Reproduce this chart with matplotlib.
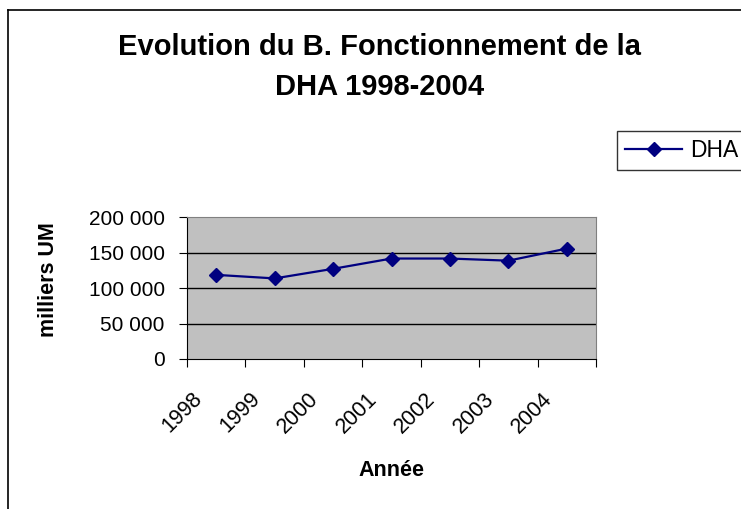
import matplotlib
matplotlib.use("Agg")
import matplotlib.pyplot as plt
from matplotlib.lines import Line2D
from matplotlib.ticker import FuncFormatter
from matplotlib.transforms import ScaledTranslation

years = ["1998", "1999", "2000", "2001", "2002", "2003", "2004"]
dha_values = [118500, 113500, 127000, 141500, 141500, 138500, 155500]
y_ticks = [0, 50000, 100000, 150000, 200000]

plt.rcParams["font.family"] = ["Liberation Sans", "DejaVu Sans"]

W, H = 741, 509
fig = plt.figure(figsize=(W / 100, H / 100), dpi=100)
fig.patch.set_facecolor("white")

# chart area frame (runs off the right and bottom edges)
fig.add_artist(Line2D([7.5 / W, 7.5 / W], [0, 1 - 9.5 / H], transform=fig.transFigure,
                      color="black", lw=1.2))
fig.add_artist(Line2D([7.5 / W, 1], [1 - 9.5 / H, 1 - 9.5 / H], transform=fig.transFigure,
                      color="black", lw=1.2))

left, right, top, bottom = 187, 596, 217, 359
ax = fig.add_axes([left / W, 1 - bottom / H, (right - left) / W, (bottom - top) / H])
ax.set_facecolor("#c0c0c0")

x = list(range(len(years)))
line, = ax.plot(x, dha_values, color="#000080", lw=1.6, marker="D",
                markersize=7, markerfacecolor="#000080", markeredgecolor="#000080",
                label="DHA", zorder=3)

ax.set_xlim(-0.5, len(years) - 0.5)
ax.set_ylim(0, 200000)
ax.set_yticks(y_ticks)
ax.yaxis.set_major_formatter(FuncFormatter(lambda v, p: f"{int(v):,}".replace(",", " ")))
for v in y_ticks[1:-1]:
    ax.axhline(v, color="black", lw=1, zorder=1)

# category boundary ticks, labels at centers
ax.set_xticks([i - 0.5 for i in range(len(years) + 1)])
ax.set_xticklabels([])
ax.set_xticks(x, minor=True)
ax.set_xticklabels(years, minor=True, rotation=45, ha="right",
                   rotation_mode="anchor", fontsize=15.5)
ax.tick_params(axis="x", which="minor", length=0, pad=21)
ax.tick_params(axis="x", which="major", length=6, direction="out", color="black")
ax.tick_params(axis="y", length=6, direction="out", labelsize=15, pad=10)
shift = ScaledTranslation(-25 / 100, 0, fig.dpi_scale_trans)
for lab in ax.get_xticklabels(minor=True):
    lab.set_transform(lab.get_transform() + shift)

for s in ["top", "right"]:
    ax.spines[s].set_color("#808080")
for s in ["left", "bottom"]:
    ax.spines[s].set_color("black")

fig.text(48 / W, 1 - 280 / H, "milliers UM", rotation=90, ha="center", va="center",
         fontsize=15.5, fontweight="bold")
fig.text(391 / W, 1 - 470 / H, "Année", ha="center", va="center",
         fontsize=15.5, fontweight="bold")

fig.text(380 / W, 1 - 47 / H, "Evolution du B. Fonctionnement de la",
         ha="center", va="center", fontsize=21, fontweight="bold")
fig.text(380 / W, 1 - 87 / H, "DHA 1998-2004",
         ha="center", va="center", fontsize=21, fontweight="bold")

leg = fig.legend(handles=[line], loc="upper left",
                 bbox_to_anchor=(617 / W, 1 - 131 / H), fontsize=16.5,
                 frameon=True, fancybox=False, handlelength=2.5,
                 borderpad=0.35, handletextpad=0.35, borderaxespad=0)
leg.get_frame().set_edgecolor("black")
leg.get_frame().set_linewidth(1)

fig.savefig("out.png", dpi=100)
